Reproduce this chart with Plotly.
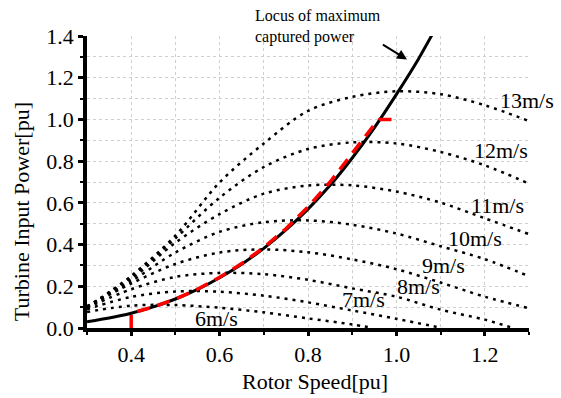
import plotly.graph_objects as go

# ---- data ----
speed = [0.3, 0.4, 0.5, 0.6, 0.7, 0.8, 0.9, 1.0, 1.1, 1.2, 1.3]
p13 = [0.100, 0.250, 0.443, 0.698, 0.885, 1.041, 1.108, 1.135, 1.121, 1.068, 0.992]
p12 = [0.100, 0.244, 0.430, 0.625, 0.772, 0.858, 0.890, 0.885, 0.844, 0.780, 0.692]
p11 = [0.104, 0.235, 0.409, 0.546, 0.644, 0.683, 0.684, 0.654, 0.601, 0.526, 0.450]
p10 = [0.103, 0.224, 0.362, 0.461, 0.507, 0.516, 0.495, 0.453, 0.392, 0.330, 0.248]
p9 = [0.101, 0.213, 0.307, 0.362, 0.377, 0.363, 0.329, 0.282, 0.218, 0.150, 0.095]
speed8 = [0.3, 0.4, 0.5, 0.6, 0.7, 0.8, 0.9, 1.0, 1.1, 1.2, 1.264]
p8 = [0.097, 0.186, 0.245, 0.264, 0.258, 0.231, 0.190, 0.150, 0.088, 0.040, 0.0]
speed7 = [0.3, 0.4, 0.5, 0.6, 0.7, 0.8, 0.9, 1.0, 1.103]
p7 = [0.090, 0.149, 0.175, 0.174, 0.155, 0.123, 0.084, 0.044, 0.0]
speed6 = [0.3, 0.4, 0.5, 0.6, 0.7, 0.8, 0.9, 0.947]
p6 = [0.077, 0.107, 0.110, 0.097, 0.075, 0.046, 0.017, 0.0]

locus_speed = [0.30, 0.35, 0.40, 0.45, 0.50, 0.55, 0.60, 0.65, 0.70, 0.75,
               0.80, 0.85, 0.90, 0.95, 1.00, 1.05, 1.08]
locus_power = [0.030, 0.048, 0.071, 0.101, 0.139, 0.185, 0.241, 0.306, 0.382, 0.470,
               0.570, 0.684, 0.815, 0.960, 1.120, 1.290, 1.403]

track_speed = [0.40, 0.40, 0.45, 0.50, 0.55, 0.60, 0.65, 0.70, 0.75, 0.80, 0.85, 0.90, 0.95, 0.962, 0.99]
track_power = [0.0, 0.071, 0.101, 0.139, 0.186, 0.243, 0.309, 0.386, 0.476, 0.580, 0.700, 0.840, 0.975, 1.0, 1.0]

wind_labels = ["13m/s", "12m/s", "11m/s", "10m/s", "9m/s", "8m/s", "7m/s", "6m/s"]
label_x = [1.295, 1.236, 1.228, 1.177, 1.107, 1.050, 0.926, 0.593]
label_y = [1.092, 0.853, 0.589, 0.430, 0.299, 0.199, 0.135, 0.047]

FONT = "Liberation Serif, Times New Roman, serif"

fig = go.Figure()

curves = [(speed, p13), (speed, p12), (speed, p11), (speed, p10), (speed, p9),
          (speed8, p8), (speed7, p7), (speed6, p6)]
for xs, ys in curves:
    fig.add_trace(go.Scatter(x=xs, y=ys, mode="lines",
                             line=dict(color="black", width=2.5, dash="3px,5px",
                                       shape="spline", smoothing=0.9),
                             showlegend=False, hoverinfo="skip"))

fig.add_trace(go.Scatter(x=locus_speed, y=locus_power, mode="lines",
                         line=dict(color="black", width=3, shape="spline", smoothing=0.6),
                         showlegend=False))
fig.add_trace(go.Scatter(x=track_speed, y=track_power, mode="lines",
                         line=dict(color="#ff0000", width=3.5, dash="13px,8px"),
                         showlegend=False))

ann = []
for t, xv, yv in zip(wind_labels, label_x, label_y):
    ann.append(dict(x=xv, y=yv, xref="x", yref="y", text=t, showarrow=False,
                    font=dict(family=FONT, size=22, color="black"),
                    xanchor="center", yanchor="middle"))

ann.append(dict(x=1.024, y=1.287, ax=0.966, ay=1.363, xref="x", yref="y",
                axref="x", ayref="y", text="", showarrow=True,
                arrowhead=2, arrowsize=1, arrowwidth=2, arrowcolor="black"))
ann.append(dict(x=0.3747, y=1.105, xref="paper", yref="paper",
                text="Locus of maximum<br>captured power", showarrow=False,
                align="left", xanchor="left", yanchor="top",
                font=dict(family=FONT, size=16, color="black")))
ann.append(dict(x=-0.149, y=0.397, xref="paper", yref="paper",
                text="Turbine Input Power[pu]", showarrow=False, textangle=-90,
                xanchor="center", yanchor="middle",
                font=dict(family=FONT, size=22, color="black")))
ann.append(dict(x=0.516, y=-0.182, xref="paper", yref="paper",
                text="Rotor Speed[pu]", showarrow=False,
                xanchor="center", yanchor="middle",
                font=dict(family=FONT, size=22, color="black")))

grid = dict(showgrid=True, gridcolor="#cfcfcf", gridwidth=1, griddash="dot")

# hide the grid lines lying on the top and right frame edges (absent in the reference)
shapes = [
    dict(type="line", xref="paper", yref="paper", x0=0.005, x1=1.0, y0=1.0, y1=1.0,
         line=dict(color="white", width=3), layer="between"),
    dict(type="line", xref="paper", yref="paper", x0=1.0, x1=1.0, y0=0.01, y1=1.0,
         line=dict(color="white", width=3), layer="between"),
]

fig.update_layout(
    width=561, height=398,
    margin=dict(l=87, r=32, t=36, b=70),
    paper_bgcolor="white", plot_bgcolor="white",
    font=dict(family=FONT, size=22, color="black"),
    annotations=ann,
    shapes=shapes,
    xaxis=dict(range=[0.3, 1.3], tickmode="linear", tick0=0.4, dtick=0.2,
               tickformat=".1f", ticks="outside", ticklen=4, tickwidth=2.5,
               tickcolor="black", showline=True, linecolor="black", linewidth=3.5,
               zeroline=False, **grid,
               minor=dict(tickmode="linear", tick0=0.3, dtick=0.1, ticks="outside",
                          ticklen=3, tickwidth=2, tickcolor="black", **grid)),
    yaxis=dict(range=[0, 1.4], tickmode="linear", tick0=0, dtick=0.2,
               tickformat=".1f", ticks="outside", ticklen=5, tickwidth=2.5,
               tickcolor="black", showline=True, linecolor="black", linewidth=3.5,
               zeroline=False, **grid,
               minor=dict(tickmode="linear", tick0=0, dtick=0.1, ticks="outside",
                          ticklen=3, tickwidth=2, tickcolor="black", **grid)),
)

fig.write_html("out.html")
